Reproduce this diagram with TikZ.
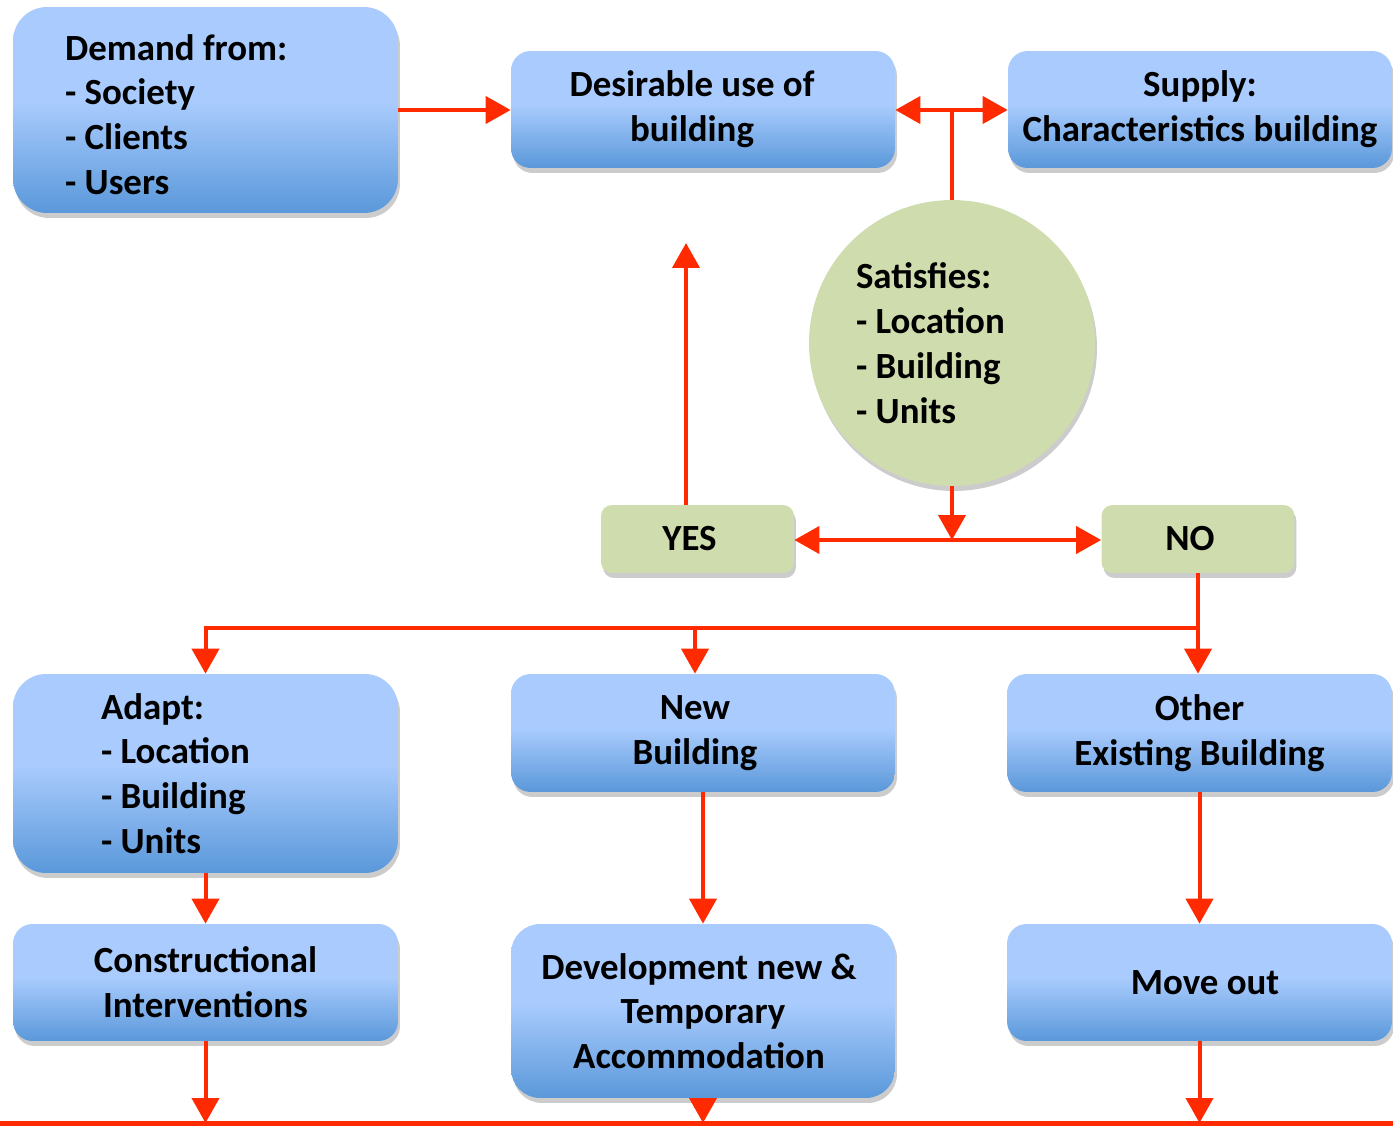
\documentclass[tikz,border=0pt]{standalone}
\usepackage{fontspec}
\setmainfont{Carlito}
\usetikzlibrary{shadows,arrows.meta,calc}
\definecolor{blight}{HTML}{A9CBFD}
\definecolor{bdark}{HTML}{5A98DA}
\definecolor{gfill}{HTML}{CFDCAD}
\definecolor{rline}{HTML}{FF2A00}
\pgfdeclareverticalshading{boxgrad}{100bp}{color(0bp)=(bdark); color(25bp)=(bdark); color(52bp)=(blight); color(100bp)=(blight)}
\newcommand{\rpad}[1]{\hspace*{#1}}
\tikzset{
  txt/.style={font=\fontsize{21}{25.5}\selectfont\bfseries, text=black},
  shad/.style={drop shadow={shadow xshift=0.04cm, shadow yshift=-0.1cm, opacity=0.2, fill=black}},
  bluebox/.style={txt, rectangle, shade, shading=boxgrad, rounded corners=#1, shad, inner sep=0pt, align=center},
  greenbox/.style={txt, rectangle, fill=gfill, rounded corners=0.22cm, shad, inner sep=0pt, align=center,
    minimum width=3.86cm, minimum height=1.36cm},
  greencirc/.style={txt, circle, fill=gfill, shad, inner sep=0pt},
  ln/.style={draw=rline, line width=0.08cm},
  arr/.style={ln, -{Triangle[length=0.5cm,width=0.54cm]}}
}
\begin{document}
\begin{tikzpicture}[x=0.02cm,y=-0.02cm]
\useasboundingbox (0,0) rectangle (1393,1128);
% top row
\node[bluebox=0.68cm, minimum width=7.7cm, minimum height=4.12cm, align=flush left,
      text width=5.62cm, inner xsep=1.04cm] (demand) at (205.5,110)
  {\rule{0pt}{0.7cm}Demand from:\\- Society\\- Clients\\- Users};
\node[bluebox=0.39cm, minimum width=7.68cm, minimum height=2.34cm] (desire) at (703,109.5)
  {Desirable use of\rpad{0.44cm}\\building\rpad{0.44cm}};
\node[bluebox=0.39cm, minimum width=7.68cm, minimum height=2.34cm] (supply) at (1200,109.5)
  {Supply:\\Characteristics building};
% decision
\node[greencirc, minimum size=5.72cm, text width=3.84cm, align=flush left] (sat) at (952,343)
  {Satisfies:\\- Location\\- Building\\- Units};
\node[greenbox] (yes) at (697.5,539) {YES\rpad{0.32cm}};
\node[greenbox] (no) at (1198,539) {NO\rpad{0.32cm}};
% middle row
\node[bluebox=0.66cm, minimum width=7.7cm, minimum height=3.98cm, align=flush left,
      text width=4.18cm, inner xsep=1.76cm] (adapt) at (205.5,773.5)
  {Adapt:\\- Location\\- Building\\- Units};
\node[bluebox=0.39cm, minimum width=7.68cm, minimum height=2.36cm] (new) at (703,733)
  {New\rpad{0.32cm}\\Building\rpad{0.32cm}};
\node[bluebox=0.39cm, minimum width=7.7cm, minimum height=2.36cm] (other) at (1199.5,733)
  {Other\\Existing Building};
% bottom row
\node[bluebox=0.39cm, minimum width=7.7cm, minimum height=2.34cm] (constr) at (205.5,982.5)
  {Constructional\\Interventions};
\node[bluebox=0.58cm, minimum width=7.68cm, minimum height=3.48cm] (dev) at (703,1011)
  {Development new \&\rpad{0.16cm}\\Temporary\rpad{0.16cm}\\Accommodation\rpad{0.16cm}};
\node[bluebox=0.39cm, minimum width=7.7cm, minimum height=2.34cm] (moveout) at (1199.5,982.5)
  {\rpad{0.22cm}Move out};
% connectors
\coordinate (t) at (952,110);
\draw[ln] (sat.north) -- (t);
\draw[arr] (t) -- (desire.east |- t);
\draw[arr] (t) -- (supply.west |- t);
\draw[arr] (demand.east |- t) -- (desire.west |- t);
\coordinate (m) at (952,540);
\draw[arr] (sat.south) -- (m);
\draw[arr] (m) -- (yes.east |- m);
\draw[arr] (m) -- (no.west |- m);
\coordinate (up) at (686,243);
\draw[arr] (yes.north -| up) -- (up);
\coordinate (j) at (1198,628);
\draw[arr] (no.south) -- (no.south |- other.north);
\draw[arr] (j) -| (adapt.north);
\coordinate (jn) at (695,628);
\draw[arr] (jn) -- (jn |- new.north);
\draw[arr] (adapt.south) -- (constr.north);
\draw[arr] (new.south) -- (dev.north);
\draw[arr] (other.south) -- (moveout.north);
\coordinate (bl) at (0,1123);
\coordinate (br) at (1393,1123);
\draw[ln, line width=0.1cm] (bl) -- (br);
\draw[arr] (constr.south) -- (constr.south |- bl);
\draw[arr] (dev.south) -- (dev.south |- bl);
\draw[arr] (moveout.south) -- (moveout.south |- bl);
\end{tikzpicture}
\end{document}
